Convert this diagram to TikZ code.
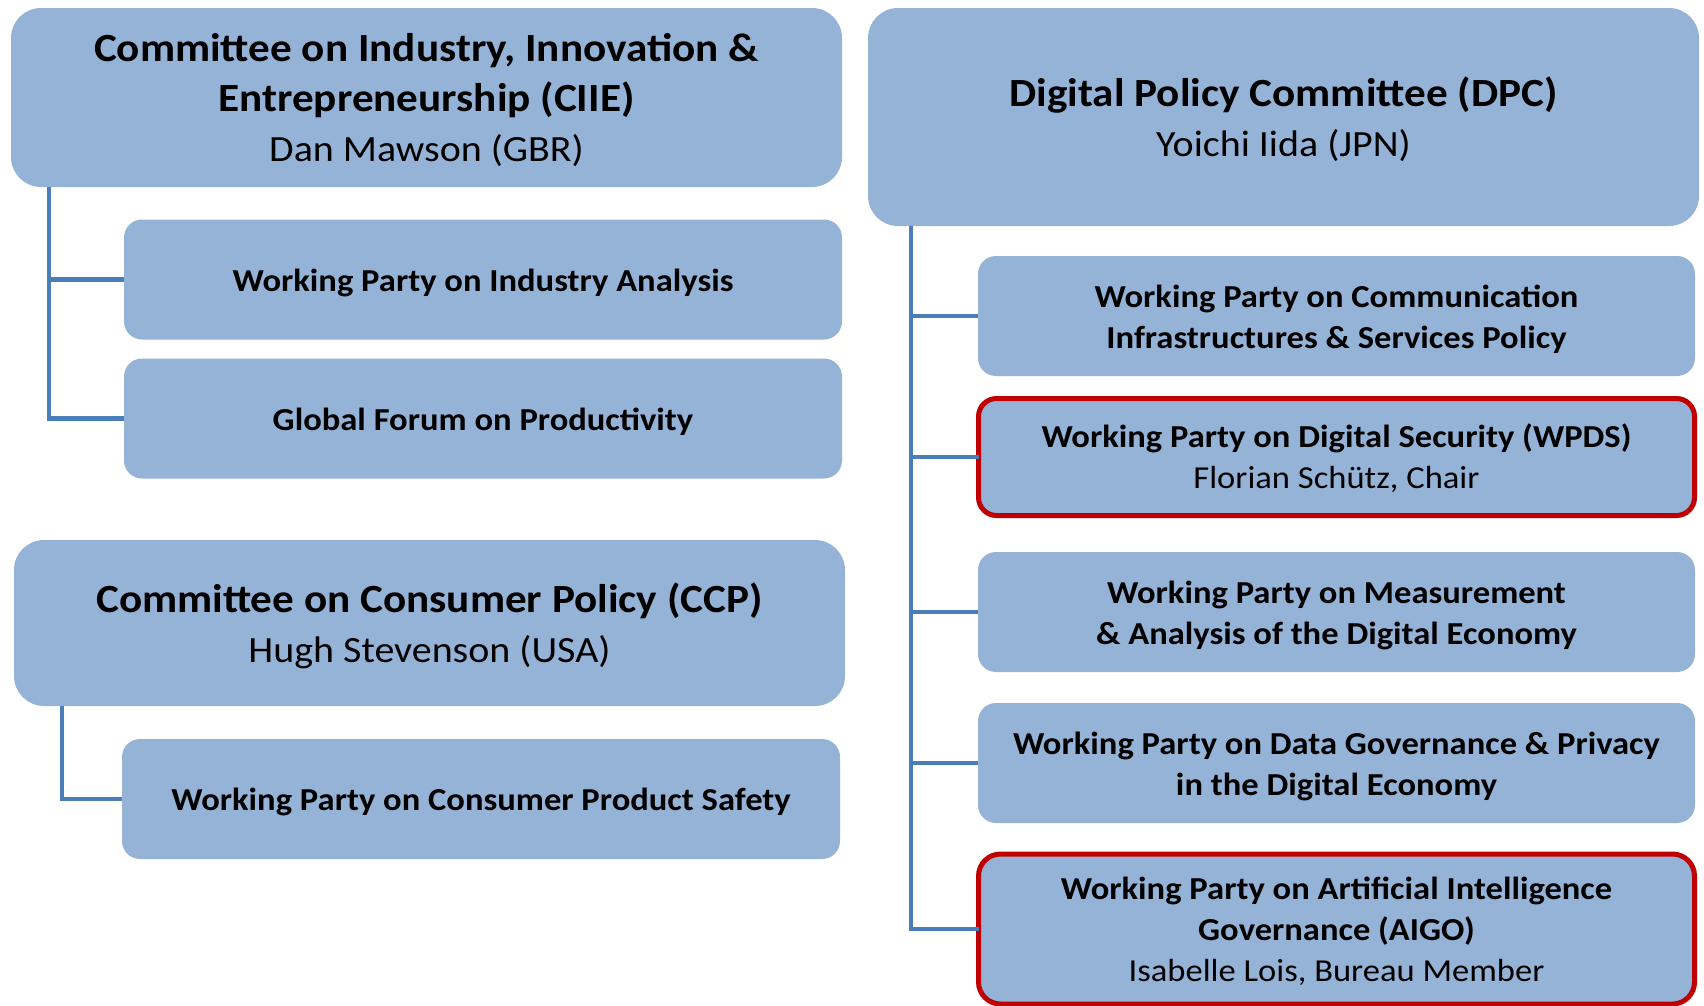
\documentclass[tikz,border=0pt]{standalone}
\usepackage{fontspec}
\setmainfont{Carlito}[FakeStretch=1.08]
\definecolor{boxblue}{HTML}{95B3D7}
\definecolor{connblue}{HTML}{4A7EBB}
\definecolor{hlred}{HTML}{C00000}
\newcommand{\ttlfont}{\fontsize{40}{50}\selectfont\bfseries}
\newcommand{\nmfont}{\fontsize{37}{50}\selectfont\mdseries}
\newcommand{\wpfont}{\fontsize{32}{41}\selectfont\bfseries}
\newcommand{\wpname}{\fontsize{32}{41}\selectfont\mdseries}
\newcommand{\lowtext}[2][3.5pt]{\raisebox{-#1}[\height][\depth]{\begin{tabular}{@{}c@{}}#2\end{tabular}}}
\tikzset{
  box/.style={rectangle, rounded corners=18pt, fill=boxblue, inner sep=0pt, outer sep=0pt},
  bigbox/.style={box, rounded corners=30pt, minimum width=831pt, font=\ttlfont},
  wpbox/.style={box, minimum width=718pt, minimum height=120pt, font=\wpfont},
  hlbox/.style={box, draw=hlred, line width=5pt, minimum width=716pt, font=\wpfont},
  conn/.style={draw=connblue, line width=4.5pt}
}
\begin{document}
\begin{tikzpicture}[x=1pt,y=-1pt]
\useasboundingbox (0,0) rectangle (1704,1005);
% left column
\node[bigbox, minimum height=179pt] (ciie) at (426.5,97.5)
  {\lowtext[4pt]{Committee on Industry, Innovation \&\\Entrepreneurship (CIIE)\\{\nmfont Dan Mawson (GBR)}}};
\node[wpbox] (ia) at (483,279.5) {\lowtext{Working Party on Industry Analysis}};
\node[wpbox] (gf) at (483,418.5) {\lowtext{Global Forum on Productivity}};
\node[bigbox, minimum height=166pt] (ccp) at (429.5,623)
  {\lowtext[4pt]{Committee on Consumer Policy (CCP)\\{\nmfont Hugh Stevenson (USA)}}};
\node[wpbox] (cps) at (481,799) {\lowtext{Working Party on Consumer Product Safety}};
% right column
\node[bigbox, minimum height=218pt] (dpc) at (1283.5,117)
  {\lowtext[4pt]{Digital Policy Committee (DPC)\\{\nmfont Yoichi Iida (JPN)}}};
\node[wpbox, minimum width=717pt] (cisp) at (1336.5,316)
  {\lowtext{Working Party on Communication\\Infrastructures \& Services Policy}};
\node[hlbox, minimum height=117pt] (wpds) at (1336.5,457)
  {\lowtext[2.5pt]{Working Party on Digital Security (WPDS)\\{\wpname Florian Schütz, Chair}}};
\node[wpbox, minimum width=717pt] (made) at (1336.5,612)
  {\lowtext{Working Party on Measurement\\\& Analysis of the Digital Economy}};
\node[wpbox, minimum width=717pt] (dgp) at (1336.5,763)
  {\lowtext{Working Party on Data Governance \& Privacy\\in the Digital Economy}};
\node[hlbox, minimum height=150pt, rounded corners=22pt] (aigo) at (1336.5,929)
  {\lowtext[3pt]{Working Party on Artificial Intelligence\\Governance (AIGO)\\{\wpname Isabelle Lois, Bureau Member}}};
% connectors
\coordinate (lx) at (49,0);
\coordinate (cx) at (62,0);
\coordinate (rx) at (911,0);
\draw[conn] (ciie.south -| lx) |- (ia.west);
\draw[conn] (ciie.south -| lx) |- (gf.west);
\draw[conn] (ccp.south -| cx) |- (cps.west);
\draw[conn] (dpc.south -| rx) |- (cisp.west);
\draw[conn] (dpc.south -| rx) |- (wpds.west);
\draw[conn] (dpc.south -| rx) |- (made.west);
\draw[conn] (dpc.south -| rx) |- (dgp.west);
\draw[conn] (dpc.south -| rx) |- (aigo.west);
\end{tikzpicture}
\end{document}
